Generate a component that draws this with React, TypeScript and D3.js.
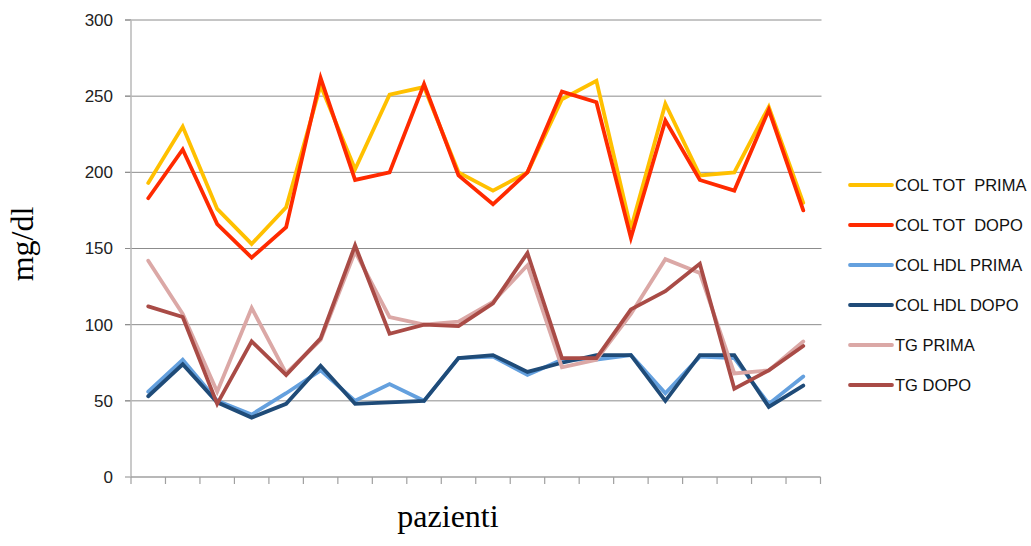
import React from 'react';
import * as d3 from 'd3';

// patients 1..20
const patients = d3.range(1, 21).map(String);
const yTicks = [0, 50, 100, 150, 200, 250, 300];

const colTotPrima = [193, 230, 176, 153, 177, 257, 202, 251, 256, 200, 188, 200, 248, 260, 163, 245, 198, 200, 243, 180];
const colTotDopo = [183, 215, 166, 144, 164, 262, 195, 200, 258, 198, 179, 200, 253, 246, 157, 234, 195, 188, 241, 175];
const colHdlPrima = [56, 77, 50, 41, 55, 70, 50, 61, 50, 78, 79, 67, 77, 77, 80, 55, 79, 78, 48, 66];
const colHdlDopo = [53, 74, 49, 39, 48, 73, 48, 49, 50, 78, 80, 69, 75, 80, 80, 50, 80, 80, 46, 60];
const tgPrima = [142, 107, 56, 111, 68, 90, 148, 105, 100, 102, 115, 139, 72, 77, 107, 143, 134, 68, 70, 89];
const tgDopo = [112, 105, 48, 89, 67, 91, 152, 94, 100, 99, 114, 147, 78, 78, 110, 122, 140, 58, 70, 86];

const seriesNames = ['COL TOT  PRIMA', 'COL TOT  DOPO', 'COL HDL PRIMA', 'COL HDL DOPO', 'TG PRIMA', 'TG DOPO'];
const seriesColors = ['#ffc000', '#ff2a00', '#64a0de', '#1f4b78', '#dba8a6', '#a94b46'];
const seriesValues = [colTotPrima, colTotDopo, colHdlPrima, colHdlDopo, tgPrima, tgDopo];

export default function App() {
  const width = 1031;
  const height = 546;
  const left = 131, right = 820.5, top = 20, bottom = 477;

  const x = d3.scaleBand().domain(patients).range([left, right]);
  const y = d3.scaleLinear().domain([0, 300]).range([bottom, top]);

  const line = d3.line<number>()
    .x((_, i) => x(patients[i])! + x.bandwidth() / 2)
    .y(d => y(d));

  const xTickPos = patients.map(p => x(p)!).concat([right]);

  return (
    <svg width={width} height={height} style={{ position: 'absolute', left: 0, top: 0 }}
      fontFamily="'Liberation Sans', Arial, sans-serif">
      <rect width={width} height={height} fill="#fff" />
      {/* gridlines */}
      {yTicks.filter(t => t > 0).map(t => (
        <line key={t} x1={left - 6} x2={right + 1} y1={y(t)} y2={y(t)} stroke="#8c8c8c" strokeWidth={1} />
      ))}
      {/* y tick marks + labels */}
      {yTicks.map(t => (
        <g key={'l' + t}>
          <line x1={left - 6} x2={left} y1={y(t)} y2={y(t)} stroke="#8c8c8c" />
          <text x={113} y={y(t)} dy="0.35em" textAnchor="end" fontSize={17} fill="#222">{t}</text>
        </g>
      ))}
      {/* axes */}
      <line x1={left} x2={left} y1={top} y2={bottom} stroke="#b8b8b8" strokeWidth={1.5} />
      <line x1={left} x2={right} y1={bottom} y2={bottom} stroke="#a0a0a0" strokeWidth={1.5} />
      {xTickPos.map((p, i) => (
        <line key={'x' + i} x1={p} x2={p} y1={bottom} y2={bottom + 7} stroke="#a0a0a0" strokeWidth={1.2} />
      ))}
      {/* series */}
      {seriesValues.map((vals, i) => (
        <path key={seriesNames[i]} d={line(vals)!} fill="none" stroke={seriesColors[i]}
          strokeWidth={3.8} strokeLinejoin="miter" strokeLinecap="round" />
      ))}
      {/* legend */}
      {seriesNames.map((name, i) => (
        <g key={'lg' + i} transform={`translate(850,${185 + i * 40})`}>
          <line x1={0} x2={42} y1={0} y2={0} stroke={seriesColors[i]} strokeWidth={3.8} strokeLinecap="round" />
          <text x={45} y={0} dy="0.35em" fontSize={16.5} fill="#111" style={{ whiteSpace: 'pre' }}>{name}</text>
        </g>
      ))}
      {/* axis titles */}
      <text transform="translate(33,244) rotate(-90)" textAnchor="middle" fontFamily="'Liberation Serif', 'Times New Roman', serif"
        fontSize={32} fill="#000">mg/dl</text>
      <text x={448} y={527} textAnchor="middle" fontFamily="'Liberation Serif', 'Times New Roman', serif"
        fontSize={32} fill="#000">pazienti</text>
    </svg>
  );
}
